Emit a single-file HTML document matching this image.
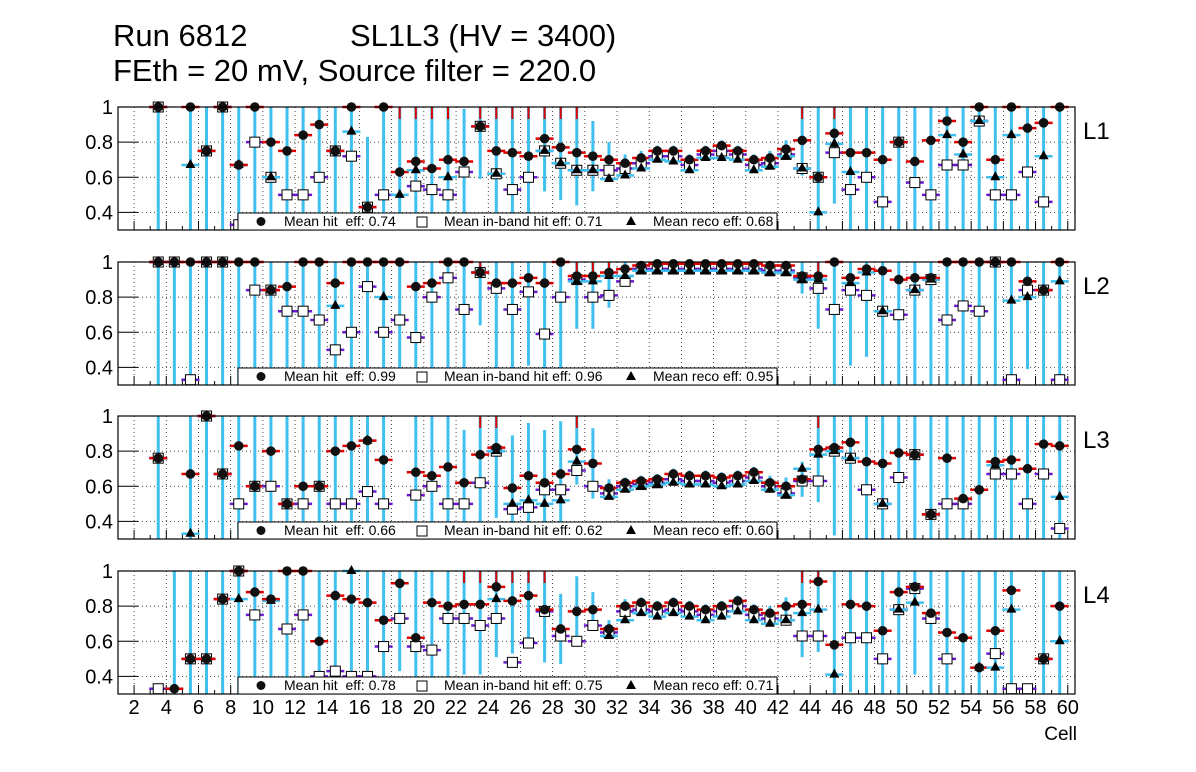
<!DOCTYPE html>
<html><head><meta charset="utf-8"><style>
body{margin:0;background:#fff;width:1196px;height:772px;overflow:hidden}
svg{display:block;font-family:"Liberation Sans",sans-serif}
</style></head><body>
<svg id="c" width="1196" height="772" xmlns="http://www.w3.org/2000/svg">
<text x="113" y="46" font-size="31">Run 6812</text>
<text x="350" y="46" font-size="31">SL1L3 (HV = 3400)</text>
<text x="113" y="81" font-size="31">FEth = 20 mV, Source filter = 220.0</text>
<text x="1077" y="740" font-size="19" text-anchor="end">Cell</text>
</svg>
<script>
const cells=[];for(let c=3;c<=59;c++)cells.push(c);
const xTicks=[2,4,6,8,10,12,14,16,18,20,22,24,26,28,30,32,34,36,38,40,42,44,46,48,50,52,54,56,58,60];
const yTicks=[0.4,0.6,0.8,1];
const yTickLabels=["0.4","0.6","0.8","1"];
const layerNames=["L1","L2","L3","L4"];
const meanHit=["0.74","0.99","0.66","0.78"];
const meanInband=["0.71","0.96","0.62","0.75"];
const meanReco=["0.68","0.95","0.60","0.71"];
const n=null;
const hitL1=[1,n,1,.75,1,.67,1,.8,.75,.84,.9,.75,1,.43,1,.63,.69,.65,.7,.69,.89,.75,.74,.72,.82,.77,.74,.72,.70,.68,.71,.75,.75,.7,.75,.78,.75,.7,.71,.76,.81,.6,.85,.74,.74,.7,.8,.69,.81,.92,.8,1,.7,1,.88,.91,1];
const inbL1=[1,n,n,.75,1,.33,.8,.6,.5,.5,.6,.75,.72,.43,.5,n,.55,.53,.5,.63,.89,.62,.53,.6,.75,.68,.64,.64,.64,.65,.68,.72,.72,.67,.73,.75,.73,.67,.68,.73,.65,.6,.74,.53,.6,.46,.8,.57,.5,.67,.67,.92,.5,.5,.63,.46,n];
const recoL1=[1,n,.67,.75,1,.67,n,.6,n,n,n,.75,.86,n,n,.5,.64,n,.6,n,.89,.62,n,n,.75,.68,.64,.64,.59,.61,.65,.7,.69,.64,.71,.71,.7,.64,.66,.72,.65,.4,.79,.63,n,n,.8,n,n,.84,.73,.92,.6,.84,n,.72,n];
const errL1=[.7,0,.7,.7,.7,.7,.7,.7,.7,.7,.7,.7,.7,.4,.7,.4,.4,.4,.4,.3,.3,.4,.4,.4,.3,.3,.3,.2,.1,.05,.04,.03,.03,.03,.03,.03,.03,.03,.04,.05,.2,.7,.4,.7,.7,.7,.7,.7,.7,.7,.7,.7,.7,.7,.7,.7,.7];
const hitL2=[1,1,1,1,1,1,1,.84,.86,1,1,.88,1,1,1,1,.86,.88,1,1,.94,.88,.88,.91,.88,1,.92,.92,.94,.96,.98,.99,.99,.99,.99,.99,.99,.99,.98,.98,.92,.92,1,.91,.96,.95,.9,.91,.91,1,1,1,1,1,.89,.84,1];
const inbL2=[1,1,.33,1,1,n,.84,.84,.72,.72,.67,.5,.6,.86,.6,.67,.57,.8,.91,.73,.94,.85,.73,.83,.59,.8,.9,.8,.81,.89,.96,.96,.96,.96,.96,.96,.96,.96,.95,.95,.91,.85,.73,.84,.81,.72,.7,.84,.9,.67,.75,.72,1,.33,.84,.84,.33];
const recoL2=[1,1,n,1,1,n,n,.84,n,n,n,.75,n,n,.8,n,n,n,n,n,.94,n,n,n,n,n,.89,.89,.92,.92,.95,.95,.95,.95,.95,.95,.95,.95,.94,.94,.9,.9,n,.88,.94,.72,n,.84,.9,n,n,n,1,.78,.8,.84,.89];
const errL2=[.7,.7,.7,.7,.7,.7,.7,.7,.7,.7,.7,.7,.7,.7,.7,.7,.7,.5,.7,.7,.3,.5,.5,.5,.5,.7,.3,.3,.2,.1,.03,.02,.02,.02,.02,.02,.02,.02,.03,.04,.1,.3,.7,.5,.5,.7,.7,.7,.7,.7,.7,.7,.7,.7,.5,.7,.7];
const hitL3=[.76,n,.67,1,.67,.83,.6,.8,.5,.6,.6,.8,.83,.86,.75,n,.68,.66,.71,.62,.78,.82,.59,.66,.62,.67,.81,.73,.59,.62,.63,.64,.67,.66,.66,.65,.66,.68,.62,.6,.64,.81,.82,.85,.74,.73,.79,.78,.44,.76,.53,.58,.74,.75,.7,.84,.83];
const inbL3=[.76,n,n,1,.67,.5,.6,.6,.5,.5,.6,.5,.5,.57,.5,n,.55,.6,.5,.5,.62,.8,.47,.48,.58,.58,.69,.6,.56,.6,.61,.62,.64,.63,.63,.62,.63,.65,.6,.56,.63,.63,.8,.76,.58,.5,.65,.78,.44,.5,.5,n,.67,.67,.5,.67,.36];
const recoL3=[.76,n,.33,1,.67,n,.6,n,.5,n,.6,n,n,.86,n,n,n,n,n,n,n,.8,.5,.52,.5,.52,.74,n,.54,.58,.6,.61,.62,.61,.61,.6,.61,.63,.58,.55,.7,.78,.8,.76,n,.5,n,.78,.44,n,n,n,.72,n,n,n,.54];
const errL3=[.7,0,.7,.7,.7,.7,.7,.7,.7,.7,.7,.7,.7,.7,.7,0,.5,.5,.5,.3,.4,.4,.3,.3,.3,.3,.2,.2,.05,.03,.03,.03,.03,.03,.03,.03,.03,.03,.04,.05,.1,.3,.5,.7,.7,.7,.7,.7,.7,.7,.7,.7,.7,.7,.7,.7,.7];
const hitL4=[n,.33,.5,.5,.84,1,.88,.84,1,1,.6,.86,.84,.82,.72,.93,.62,.82,.8,.81,.81,.91,.83,.86,.78,.67,.77,.78,.67,.8,.82,.8,.82,.8,.78,.8,.83,.78,.76,.8,.81,.94,.58,.81,.8,.66,.88,.91,.76,.65,.62,.45,.66,.89,n,.5,.8];
const inbL4=[.33,n,.5,.5,.84,1,.75,n,.67,.75,.4,.43,.4,.4,.57,.73,.57,.55,.73,.73,.69,.73,.48,.59,.77,.63,.6,.69,.65,.77,.78,.77,.78,.77,.75,.77,.8,.75,.73,.72,.63,.63,n,.62,.62,.5,.78,.9,.73,.5,n,n,.53,.33,.33,.5,n];
const recoL4=[n,n,.5,.5,.84,.84,n,.83,n,n,n,n,1,n,n,n,n,n,n,n,n,.84,n,n,n,n,n,n,.63,.72,.76,.74,.76,.74,.72,.74,.77,.72,.7,.72,.76,.78,.41,n,n,n,.78,.82,n,n,n,.45,.45,.78,n,.5,.6];
const errL4=[.7,.7,.7,.7,.7,.7,.7,.7,.7,.7,.7,.7,.7,.7,.7,.5,.5,.5,.5,.4,.4,.4,.3,.3,.3,.2,.2,.1,.05,.04,.03,.03,.03,.03,.03,.03,.03,.03,.04,.05,.3,.4,.7,.5,.5,.7,.7,.5,.5,.7,.7,.7,.7,.7,.7,.7,.7];
const hits=[hitL1,hitL2,hitL3,hitL4],inbs=[inbL1,inbL2,inbL3,inbL4],recos=[recoL1,recoL2,recoL3,recoL4],errs=[errL1,errL2,errL3,errL4];

const svg=document.getElementById('c');const NS='http://www.w3.org/2000/svg';
const X0=118,X1=1075,XMIN=1,XMAX=60.45,YMIN=0.3,YMAX=1.0,PH=123;
const panelTops=[107,262,416,571];
const xs=v=>X0+(v-XMIN)/(XMAX-XMIN)*(X1-X0);
function mk(t,a,p){const e=document.createElementNS(NS,t);for(const k in a)e.setAttribute(k,a[k]);(p||svg).appendChild(e);return e;}
for(let p=0;p<4;p++){
 const top=panelTops[p],bot=top+PH;
 const ys=v=>bot-(v-YMIN)/(YMAX-YMIN)*PH;
 const clip=v=>Math.max(top,Math.min(bot,v));
 const g=mk('g',{});
 
 
 xTicks.forEach(t=>{if(t>XMIN&&t<XMAX){mk('line',{x1:xs(t),x2:xs(t),y1:top,y2:bot,stroke:'#000','stroke-width':0.7,'stroke-dasharray':'1,3'},g);}});
 yTicks.forEach((t,i)=>{if(t<YMAX)mk('line',{x1:X0,x2:X1,y1:ys(t),y2:ys(t),stroke:'#000','stroke-width':0.7,'stroke-dasharray':'1,3'},g);
  mk('line',{x1:X0,x2:X0+20,y1:ys(t),y2:ys(t),stroke:'#000','stroke-width':1},g);
  const tl=mk('text',{x:113,y:ys(t)+7,'font-size':20,'text-anchor':'end'},g);tl.textContent=yTickLabels[i];
  
  });
 for(let t=2;t<=60;t++){mk('line',{x1:xs(t),x2:xs(t),y1:bot,y2:bot-(t%2?4:9),stroke:'#000','stroke-width':1},g);}
 const H=hits[p],I=inbs[p],R=recos[p],E=errs[p];
 cells.forEach((c,i)=>{
  const x=xs(c+0.5);
  if(H[i]!=null){
   const e=E[i];
   const b=mk('line',{x1:x,x2:x,y1:clip(ys(H[i]-e)),y2:clip(ys(Math.min(1,H[i]+e))),stroke:'#3fc0ee','stroke-width':3},g);
   
   
   if(e>=0.2&&e<0.5&&H[i]+e>1.0&&H[i]<1){mk('line',{x1:x,x2:x,y1:top,y2:top+12,stroke:'#d00','stroke-width':2},g);}
  }
 });
 cells.forEach((c,i)=>{
  const x=xs(c+0.5);
  if(I[i]!=null){const y=ys(I[i]);mk('line',{x1:x-9,x2:x+9,y1:y,y2:y,stroke:'#6a1bd0','stroke-width':2.5},g);
   const s=mk('rect',{x:x-5,y:y-5,width:10,height:10,fill:'#fff',stroke:'#000','stroke-width':1},g);
   
   }
  if(R[i]!=null){const y=ys(R[i]);mk('line',{x1:x-9,x2:x+9,y1:y,y2:y,stroke:'#3fc0ee','stroke-width':2.5},g);
   const t=mk('polygon',{points:`${x},${y-6} ${x-5},${y+3} ${x+5},${y+3}`,fill:'#000'},g);
   
   }
  if(H[i]!=null){const y=ys(H[i]);mk('line',{x1:x-9,x2:x+9,y1:y,y2:y,stroke:'#d00','stroke-width':2.5},g);
   const m=mk('circle',{cx:x,cy:y,r:4.8,fill:'#111'},g);
   
   }
 });
 mk('rect',{x:X0,y:top,width:X1-X0,height:PH,fill:'none',stroke:'#000','stroke-width':1.2},g);
 const lg=mk('g',{},g);
 
 
 const ly=bot-17;
 mk('rect',{x:238,y:ly,width:539,height:17,fill:'#fff',stroke:'#000','stroke-width':1},lg);
 mk('circle',{cx:261,cy:ly+8.5,r:4.5,fill:'#111'},lg);
 mk('rect',{x:417,y:ly+4,width:10,height:10,fill:'#fff',stroke:'#000'},lg);
 mk('polygon',{points:`631,${ly+3} 626,${ly+12} 636,${ly+12}`,fill:'#000'},lg);
 [[284,'Mean hit  eff: '+meanHit[p]],[444,'Mean in-band hit eff: '+meanInband[p]],[653,'Mean reco eff: '+meanReco[p]]].forEach(([tx,s])=>{
  const t=mk('text',{x:tx,y:ly+13,'font-size':14},lg);t.textContent=s;t.style.whiteSpace='pre';
  
  });
 const ln=mk('text',{x:1083,y:top+32,'font-size':24},g);ln.textContent=layerNames[p];
 
 
}
xTicks.forEach(t=>{const e=mk('text',{x:xs(t),y:714,'font-size':20,'text-anchor':'middle'});e.textContent=t;
 
 });
</script>
</body></html>
